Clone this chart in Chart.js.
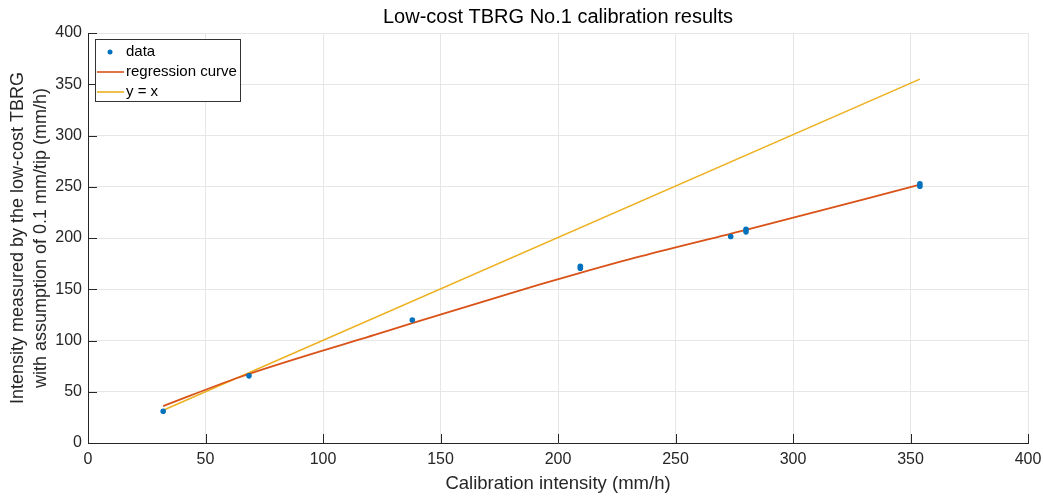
<!DOCTYPE html>
<html>
<head>
<meta charset="utf-8">
<script src="https://cdn.jsdelivr.net/npm/chart.js@4"></script>
<style>
  html, body { margin: 0; padding: 0; background: #fff; }
  #wrap { width: 1043px; height: 497px; }
</style>
</head>
<body>
<div id="wrap"><canvas id="calibChart" width="1043" height="497"></canvas></div>
<script>
// measured points (calibration intensity vs. TBRG intensity)
const dataX = [32, 68.5, 138, 209.5, 209.5, 273.5, 280, 280, 354, 354];
const dataY = [31, 65.5, 120, 170.5, 172.5, 201.5, 206, 208.5, 250.5, 253];

// regression curve, points
const regX = [32, 64.7, 124, 138, 192, 209.5, 235, 280, 354];
const regY = [36, 64.4, 107, 117, 154.5, 166, 182, 208, 252];

// y = x reference line endpoints
const idX = [32, 354];
const idY = [32, 355];

const xTicks = [0, 50, 100, 150, 200, 250, 300, 350, 400];
const yTicks = [0, 50, 100, 150, 200, 250, 300, 350, 400];

const chartTitle = 'Low-cost TBRG No.1 calibration results';

const C_DATA = '#0072BD';
const C_REG = '#D95319';
const C_ID = '#EDB120';
const TXT = '#262626';
const FONT = 'Liberation Sans, Arial, sans-serif';

const toPts = (xs, ys) => xs.map((x, i) => ({ x: x, y: ys[i] }));

// title centred over the plot area (matlab puts it there, not over the canvas)
const plotTitle = {
    id: 'plotTitle',
    afterDraw(chart) {
        const ctx = chart.ctx;
        const a = chart.chartArea;
        ctx.save();
        ctx.font = '20px ' + FONT;
        ctx.fillStyle = '#000';
        ctx.textAlign = 'center';
        ctx.textBaseline = 'middle';
        ctx.fillText(chartTitle, (a.left + a.right) / 2, 17);
        ctx.restore();
    }
};

// legend box drawn inside the plot area, like the original
const insideLegend = {
    id: 'insideLegend',
    afterDraw(chart) {
        const ctx = chart.ctx;
        const x0 = 95, y0 = 39, w = 145, h = 62;
        ctx.save();
        ctx.fillStyle = '#fff';
        ctx.fillRect(x0, y0, w, h);
        ctx.strokeStyle = '#333';
        ctx.lineWidth = 1;
        ctx.strokeRect(x0 + 0.5, y0 + 0.5, w, h);
        ctx.font = '15px ' + FONT;
        ctx.textBaseline = 'middle';
        const rows = [
            { label: 'data', type: 'dot', color: C_DATA },
            { label: 'regression curve', type: 'line', color: C_REG },
            { label: 'y = x', type: 'line', color: C_ID }
        ];
        rows.forEach((r, i) => {
            const cy = y0 + 13 + i * 20;
            if (r.type === 'dot') {
                ctx.fillStyle = r.color;
                ctx.beginPath();
                ctx.arc(x0 + 15, cy, 2.5, 0, Math.PI * 2);
                ctx.fill();
            } else {
                ctx.strokeStyle = r.color;
                ctx.lineWidth = 1.6;
                ctx.beginPath();
                ctx.moveTo(x0 + 2, cy);
                ctx.lineTo(x0 + 29, cy);
                ctx.stroke();
            }
            ctx.fillStyle = '#000';
            ctx.fillText(r.label, x0 + 31, cy);
        });
        ctx.restore();
    }
};

// small inward tick marks (matlab style)
const innerTicks = {
    id: 'innerTicks',
    afterDatasetsDraw(chart) {
        const ctx = chart.ctx;
        const xs = chart.scales.x, ys = chart.scales.y;
        const a = chart.chartArea;
        ctx.save();
        ctx.strokeStyle = TXT;
        ctx.lineWidth = 1;
        xTicks.forEach(t => {
            const px = Math.round(xs.getPixelForValue(t)) + 0.5;
            ctx.beginPath();
            ctx.moveTo(px, a.bottom);
            ctx.lineTo(px, a.bottom - 9);
            ctx.stroke();
        });
        yTicks.forEach(t => {
            const py = Math.round(ys.getPixelForValue(t)) + 0.5;
            ctx.beginPath();
            ctx.moveTo(a.left, py);
            ctx.lineTo(a.left + 9, py);
            ctx.stroke();
        });
        ctx.restore();
    }
};

new Chart(document.getElementById('calibChart'), {
    type: 'scatter',
    data: {
        datasets: [
            {
                label: 'y = x',
                type: 'line',
                data: toPts(idX, idY),
                borderColor: C_ID,
                borderWidth: 1.6,
                pointRadius: 0,
                fill: false,
                order: 3
            },
            {
                label: 'regression curve',
                type: 'line',
                data: toPts(regX, regY),
                borderColor: C_REG,
                borderWidth: 1.8,
                pointRadius: 0,
                cubicInterpolationMode: 'monotone',
                fill: false,
                order: 2
            },
            {
                label: 'data',
                data: toPts(dataX, dataY),
                backgroundColor: C_DATA,
                borderColor: C_DATA,
                pointRadius: 2.8,
                pointBorderWidth: 0,
                order: 1
            }
        ]
    },
    options: {
        responsive: false,
        animation: false,
        layout: { padding: { left: 6, right: 0, top: 33, bottom: 0 } },
        plugins: {
            legend: { display: false },
            tooltip: { enabled: false },
            title: { display: false }
        },
        scales: {
            x: {
                type: 'linear',
                min: 0,
                max: 400,
                afterBuildTicks: s => { s.ticks = xTicks.map(v => ({ value: v })); },
                afterFit: s => { s.height = 54; s.paddingRight = 15; },
                ticks: { color: TXT, font: { family: FONT, size: 16 }, padding: 7 },
                grid: { color: '#e6e6e6', drawTicks: false },
                border: { display: true, color: TXT },
                title: {
                    display: true,
                    text: 'Calibration intensity (mm/h)',
                    color: TXT,
                    font: { family: FONT, size: 18.5, lineHeight: 1.2 },
                    padding: { top: 0, bottom: 2 }
                }
            },
            y: {
                type: 'linear',
                min: 0,
                max: 400,
                afterBuildTicks: s => { s.ticks = yTicks.map(v => ({ value: v })); },
                afterFit: s => { s.width = 82; },
                ticks: { color: TXT, font: { family: FONT, size: 16 }, padding: 6 },
                grid: { color: '#e6e6e6', drawTicks: false },
                border: { display: true, color: TXT },
                title: {
                    display: true,
                    text: ['Intensity measured by the low-cost TBRG', 'with assumption of 0.1 mm/tip (mm/h)'],
                    color: TXT,
                    font: { family: FONT, size: 18, lineHeight: 1.3 },
                    padding: { top: 0, bottom: 0 }
                }
            }
        }
    },
    plugins: [innerTicks, insideLegend, plotTitle]
});
</script>
</body>
</html>
